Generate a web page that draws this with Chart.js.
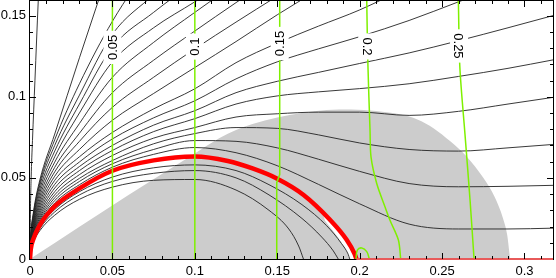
<!DOCTYPE html>
<html>
<head>
<meta charset="utf-8">
<script src="https://cdn.jsdelivr.net/npm/chart.js@4.4.1/dist/chart.umd.min.js"></script>
<style>
  html, body { margin: 0; padding: 0; background: #fff; }
  canvas { display: block; }
</style>
</head>
<body>
<canvas id="chart" width="556" height="278"></canvas>
<script>
// ================= DATA =================
const X_MAX = 0.3173;
const Y_MAX = 0.159;

// shared x positions for the streamlines that leave the origin
const xGrid = [0, 0.0005, 0.002, 0.006, 0.015, 0.03, 0.05, 0.075, 0.1, 0.125, 0.15, 0.175, 0.2, 0.23, 0.26, 0.29, 0.3173];

// streamlines above the red curve (y at each xGrid point, null = left the plot)
const lineA1 = [0, 0.0065, 0.0129, 0.0222, 0.0345, 0.0458, 0.0566, 0.0645, 0.0687, 0.0655, 0.0575, 0.046, 0.034, 0.0215, 0.0185, 0.0185, 0.019];
const lineA2 = [0, 0.0068, 0.0135, 0.0232, 0.036, 0.0478, 0.0587, 0.0675, 0.073, 0.0725, 0.0685, 0.0615, 0.054, 0.0465, 0.0445, 0.0448, 0.0454];
const lineA3 = [0, 0.0071, 0.0141, 0.0243, 0.0377, 0.0497, 0.0607, 0.071, 0.0773, 0.081, 0.0805, 0.0765, 0.0715, 0.0675, 0.0665, 0.0685, 0.0706];
const lineA4 = [0, 0.0074, 0.0148, 0.0255, 0.0395, 0.052, 0.0638, 0.0745, 0.081, 0.0875, 0.0895, 0.0905, 0.0905, 0.0885, 0.091, 0.0955, 0.0996];
const lineA5 = [0, 0.0078, 0.0155, 0.0268, 0.0415, 0.0545, 0.0669, 0.0785, 0.0865, 0.0955, 0.1005, 0.103, 0.105, 0.108, 0.1125, 0.1175, 0.1227];
const lineA6 = [0, 0.0082, 0.0163, 0.0282, 0.0437, 0.057, 0.07, 0.0825, 0.0914, 0.1025, 0.1095, 0.115, 0.1205, 0.127, 0.1345, 0.1425, 0.15];
const lineA7 = [0, 0.0086, 0.0171, 0.0297, 0.046, 0.0598, 0.074, 0.087, 0.0975, 0.111, 0.1215, 0.1295, 0.137, 0.147, 0.1585, 0.17, null];
const lineA8 = [0, 0.009, 0.018, 0.0313, 0.0485, 0.063, 0.078, 0.0925, 0.1049, 0.121, 0.133, 0.1435, 0.1535, 0.168, null, null, null];
const lineT5 = [0, 0.0095, 0.019, 0.033, 0.051, 0.0675, 0.0855, 0.102, 0.118, 0.134, 0.1505, 0.166, null, null, null, null, null];
const lineT4 = [0, 0.01, 0.02, 0.0348, 0.0537, 0.0725, 0.0935, 0.112, 0.1295, 0.146, 0.162, null, null, null, null, null, null];
const lineT3 = [0, 0.0106, 0.0211, 0.0367, 0.0565, 0.0775, 0.1025, 0.1225, 0.1405, 0.158, 0.175, null, null, null, null, null, null];
const lineT2 = [0, 0.0112, 0.0223, 0.0388, 0.0597, 0.0835, 0.112, 0.1335, 0.152, 0.17, null, null, null, null, null, null, null];
const lineT1 = [0, 0.0118, 0.0236, 0.041, 0.063, 0.09, 0.1215, 0.1425, 0.1585, 0.175, null, null, null, null, null, null, null];
const lineL5 = [0, 0.0125, 0.0249, 0.0432, 0.0665, 0.0955, 0.1305, 0.152, 0.171, null, null, null, null, null, null, null, null];
const lineL4 = [0, 0.0131, 0.0262, 0.0455, 0.07, 0.101, 0.1385, 0.163, null, null, null, null, null, null, null, null, null];
const lineL3 = [0, 0.0136, 0.0272, 0.0472, 0.0735, 0.108, 0.1465, 0.185, null, null, null, null, null, null, null, null, null];
const lineL2 = [0, 0.0141, 0.0282, 0.0488, 0.077, 0.124, 0.185, null, null, null, null, null, null, null, null, null, null];

// almost vertical line next to the y axis
const lineL1X = [0, 0.0002, 0.0007, 0.0015, 0.003, 0.005, 0.006];
const lineL1Y = [0, 0.025, 0.05, 0.073, 0.11, 0.159, 0.18];

// streamlines inside the red curve
const inner1X = [0, 0.0005, 0.002, 0.006, 0.015, 0.03, 0.05, 0.075, 0.1, 0.125, 0.145, 0.165, 0.18, 0.189, 0.193, 0.194];
const inner1Y = [0, 0.0058, 0.0116, 0.0198, 0.0305, 0.0415, 0.0505, 0.0562, 0.058, 0.0545, 0.0458, 0.0335, 0.0205, 0.0095, 0.003, 0];
const inner2X = [0, 0.0005, 0.002, 0.006, 0.015, 0.03, 0.05, 0.075, 0.1, 0.125, 0.145, 0.165, 0.177, 0.184, 0.187];
const inner2Y = [0, 0.0055, 0.011, 0.0188, 0.029, 0.0395, 0.0478, 0.0528, 0.0545, 0.05, 0.0395, 0.025, 0.0135, 0.005, 0];
const inner3X = [0, 0.0005, 0.002, 0.006, 0.015, 0.03, 0.05, 0.075, 0.1, 0.125, 0.145, 0.157, 0.163, 0.1659];
const inner3Y = [0, 0.0051, 0.0102, 0.0175, 0.027, 0.0368, 0.0443, 0.0485, 0.049, 0.0425, 0.03, 0.0185, 0.008, 0];

// thick red curve + red part of the axis
const redX = [0, 0.0005, 0.002, 0.006, 0.015, 0.03, 0.05, 0.075, 0.1, 0.12, 0.135, 0.15, 0.166, 0.182, 0.192, 0.197, 0.198];
const redY = [0, 0.0062, 0.0122, 0.021, 0.0325, 0.0435, 0.0544, 0.0608, 0.0632, 0.0604, 0.0558, 0.0495, 0.0395, 0.0242, 0.012, 0.003, 0];
const redAxisX = [0.198, 0.3173];
const redAxisY = [0, 0];

// gray region (upper boundary, filled down to y = 0)
const grayX = [0, 0.06, 0.1, 0.115, 0.125, 0.135, 0.15, 0.165, 0.18, 0.195, 0.21, 0.225, 0.235, 0.245, 0.255, 0.265, 0.275, 0.282, 0.287, 0.2895, 0.2913];
const grayY = [0, 0.0396, 0.065, 0.0745, 0.0795, 0.0832, 0.0872, 0.0899, 0.0918, 0.0922, 0.0912, 0.089, 0.086, 0.0805, 0.0725, 0.063, 0.05, 0.038, 0.025, 0.015, 0];

// small white gap just inside the end of the red curve
const gapX = [0.178, 0.186, 0.192, 0.196, 0.1975, 0.194, 0.191, 0.186, 0.179];
const gapY = [0.027, 0.02, 0.012, 0.004, 0, 0, 0.007, 0.0145, 0.0235];

// green contours
const green005X = [0.05, 0.05];
const green005Y = [0, 0.159];
const green010X = [0.1, 0.1];
const green010Y = [0, 0.159];
const green015X = [0.1497, 0.1497, 0.1515, 0.1515];
const green015Y = [0, 0.047, 0.052, 0.159];
const green020X = [0.2249, 0.2235, 0.2184, 0.2154, 0.2104, 0.2069, 0.2063, 0.205, 0.2043];
const green020Y = [0, 0.0117, 0.0239, 0.0321, 0.0464, 0.0628, 0.0791, 0.12, 0.159];
const green025X = [0.2694, 0.267, 0.2639, 0.2608, 0.2599];
const green025Y = [0, 0.036, 0.0769, 0.118, 0.159];
const greenLoopX = [0.1978, 0.1986, 0.2013, 0.2043, 0.2059];
const greenLoopY = [0, 0.0055, 0.0068, 0.0045, 0];

// contour labels
const contourLabels = ["0.05", "0.1", "0.15", "0.2", "0.25"];
const labelX = [0.05, 0.1, 0.1515, 0.2046, 0.2603];
const labelY = [0.1304, 0.1309, 0.1328, 0.131, 0.1313];
const labelUpward = [true, true, true, false, false];

// ================= HELPERS =================
const FONT = '"Liberation Sans", Arial, Helvetica, sans-serif';
const pts = (xs, ys) => xs.map((x, i) => ({ x: x, y: ys[i] })).filter(p => p.y !== null);
const fmt = v => String(Math.round(v * 100) / 100);

function stream(ys) {
  return {
    data: pts(xGrid, ys),
    showLine: true,
    borderColor: "#222",
    borderWidth: 0.9,
    pointRadius: 0,
    cubicInterpolationMode: "monotone",
    order: 4
  };
}
function curve(xs, ys, color, width, order, extra) {
  return Object.assign({
    data: pts(xs, ys),
    showLine: true,
    borderColor: color,
    borderWidth: width,
    pointRadius: 0,
    order: order
  }, extra || {});
}

const datasets = [
  curve(grayX, grayY, "rgba(0,0,0,0)", 0, 6, { fill: "origin", backgroundColor: "#cccccc", cubicInterpolationMode: "monotone" }),
  curve(gapX, gapY, "rgba(0,0,0,0)", 0, 5, { fill: "shape", backgroundColor: "#ffffff" }),
  ...[lineA1, lineA2, lineA3, lineA4, lineA5, lineA6, lineA7, lineA8, lineT5, lineT4, lineT3, lineT2, lineT1, lineL5, lineL4, lineL3, lineL2].map(s => stream(s)),
  curve(lineL1X, lineL1Y, "#222", 0.9, 4, { cubicInterpolationMode: "monotone" }),
  curve(inner1X, inner1Y, "#222", 0.9, 4, { cubicInterpolationMode: "monotone" }),
  curve(inner2X, inner2Y, "#222", 0.9, 4, { cubicInterpolationMode: "monotone" }),
  curve(inner3X, inner3Y, "#222", 0.9, 4, { cubicInterpolationMode: "monotone" }),
  curve(redX, redY, "#ff0000", 4.5, 3, { cubicInterpolationMode: "monotone" }),
  curve(green005X, green005Y, "#7ff000", 1.5, 2),
  curve(green010X, green010Y, "#7ff000", 1.5, 2),
  curve(green015X, green015Y, "#7ff000", 1.5, 2),
  curve(green020X, green020Y, "#7ff000", 1.5, 2, { tension: 0.3 }),
  curve(green025X, green025Y, "#7ff000", 1.5, 2, { tension: 0.3 }),
  curve(greenLoopX, greenLoopY, "#7ff000", 1.5, 2, { tension: 0.4 }),
  curve(redAxisX, redAxisY, "#e85a5a", 2, 0, { clip: false })
];
const axisIndex = datasets.length - 1;

// ================= PLUGINS =================
// frame + inward ticks on all four sides
const frameTicks = {
  id: "frameTicks",
  beforeDatasetDraw(chart, args) {
    if (args.index !== axisIndex) return;
    const { ctx, chartArea: a } = chart;
    ctx.save();
    ctx.strokeStyle = "#000";
    ctx.lineWidth = 1;
    ctx.strokeRect(a.left - 0.5, a.top - 0.5, a.right - a.left + 1, a.bottom - a.top + 1);
    ctx.restore();
  },
  afterDatasetsDraw(chart) {
    const { ctx, chartArea: a, scales } = chart;
    ctx.save();
    ctx.strokeStyle = "#000";
    ctx.lineWidth = 1;
    ctx.beginPath();
    for (let i = 1; i <= 31; i++) {
      const px = Math.round(scales.x.getPixelForValue(i / 100)) + 0.5;
      const len = i % 5 === 0 ? 6 : 3;
      ctx.moveTo(px, a.bottom); ctx.lineTo(px, a.bottom - len);
      ctx.moveTo(px, a.top); ctx.lineTo(px, a.top + len);
    }
    for (let i = 1; i <= 15; i++) {
      const py = Math.round(scales.y.getPixelForValue(i / 100)) + 0.5;
      const len = i % 5 === 0 ? 6 : 3;
      ctx.moveTo(a.left, py); ctx.lineTo(a.left + len, py);
      ctx.moveTo(a.right, py); ctx.lineTo(a.right - len, py);
    }
    ctx.stroke();
    ctx.restore();
  }
};

// rotated contour labels on white boxes
const contourText = {
  id: "contourText",
  afterDatasetsDraw(chart) {
    const { ctx, scales } = chart;
    ctx.save();
    ctx.font = "13px " + FONT;
    contourLabels.forEach((t, i) => {
      const px = scales.x.getPixelForValue(labelX[i]);
      const py = scales.y.getPixelForValue(labelY[i]);
      const w = ctx.measureText(t).width + 8;
      ctx.save();
      ctx.translate(px, py);
      ctx.rotate(labelUpward[i] ? -Math.PI / 2 : Math.PI / 2);
      ctx.fillStyle = "#fff";
      ctx.fillRect(-w / 2, -9, w, 18);
      ctx.fillStyle = "#000";
      ctx.textAlign = "center";
      ctx.textBaseline = "middle";
      ctx.fillText(t, 0, 1);
      ctx.restore();
    });
    ctx.restore();
  }
};

// ================= CHART =================
new Chart(document.getElementById("chart"), {
  type: "scatter",
  data: { datasets: datasets },
  options: {
    responsive: false,
    animation: false,
    devicePixelRatio: 1,
    layout: { padding: { top: 1, right: 3, left: 0, bottom: 0 } },
    plugins: { legend: { display: false }, tooltip: { enabled: false } },
    scales: {
      x: {
        type: "linear",
        min: 0,
        max: X_MAX,
        grid: { display: false, drawTicks: false },
        border: { display: false },
        ticks: {
          stepSize: 0.05,
          includeBounds: false,
          autoSkip: false,
          maxRotation: 0,
          padding: 5,
          color: "#000",
          font: { family: FONT, size: 13 },
          callback: v => fmt(v)
        },
        afterFit: s => { s.height = 19; s.paddingLeft = 0; s.paddingRight = 0; }
      },
      y: {
        type: "linear",
        min: 0,
        max: Y_MAX,
        grid: { display: false, drawTicks: false },
        border: { display: false },
        ticks: {
          stepSize: 0.05,
          includeBounds: false,
          autoSkip: false,
          padding: 4,
          color: "#000",
          font: { family: FONT, size: 13 },
          callback: v => fmt(v)
        },
        afterFit: s => { s.width = 30; s.paddingTop = 0; s.paddingBottom = 0; }
      }
    }
  },
  plugins: [frameTicks, contourText]
});
</script>
</body>
</html>
